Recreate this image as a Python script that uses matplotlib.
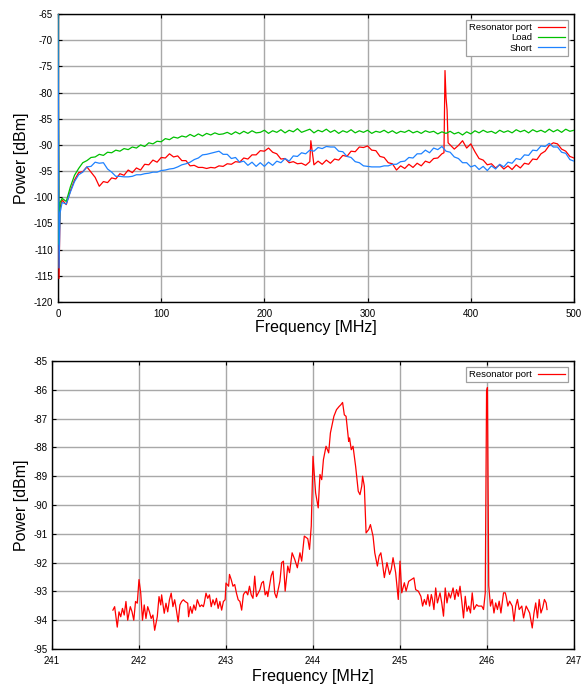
import numpy as np
import matplotlib
matplotlib.use("Agg")
import matplotlib.pyplot as plt

plt.rcParams['font.family'] = ['Liberation Sans', 'DejaVu Sans']

# ---------------- top panel data (0-500 MHz sweep) ----------------
top_freq = [0, 1, 2] + list(range(4, 501, 4))

load_power = [
    -65, -109, -101,
    -100.2, -100.8, -98.0, -95.8, -94.5, -93.4, -93.0, -92.4, -92.3, -91.8,
    -92.0, -91.4, -91.5, -91.0, -91.2, -90.7, -90.9, -90.4, -90.6, -90.0,
    -90.3, -89.6, -89.8, -89.3, -89.4, -88.8, -89.0, -88.5, -88.7, -88.3,
    -88.5, -88.0, -88.4, -87.9, -88.3, -87.8, -88.1, -87.7, -88.0, -87.9,
    -87.6, -88.0, -87.5, -87.9, -87.4, -87.8, -87.3, -87.7, -87.6, -87.2,
    -87.8, -87.3, -87.6, -87.1, -87.7, -87.2, -87.5, -86.9, -87.6, -87.3,
    -87.0, -87.7, -87.2, -87.5, -87.0, -87.6, -87.2, -87.8, -87.3, -87.6,
    -87.1, -87.7, -87.3, -87.6, -87.2, -87.8, -87.4, -87.6, -87.2, -87.7,
    -87.3, -87.8, -87.4, -87.6, -87.2, -87.7, -87.4, -87.8, -87.3, -87.6,
    -87.4, -87.9, -87.5, -87.8, -87.4, -87.9, -87.6, -88.1, -87.5, -87.9,
    -87.3, -87.7, -87.2, -87.6, -87.4, -87.8, -87.2, -87.6, -87.3, -87.7,
    -87.1, -87.5, -87.2, -87.7, -87.1, -87.5, -87.2, -87.6, -87.0, -87.5,
    -87.1, -87.6, -87.0, -87.4, -87.2,
]

resonator_power = [
    -65, -115.5, -102,
    -100.5, -101.4, -98.8, -96.7, -95.3, -95.1, -94.2, -95.2, -96.2, -97.9,
    -97.0, -97.2, -96.3, -96.5, -95.5, -95.8, -94.8, -95.3, -94.4, -94.8,
    -93.7, -93.8, -92.9, -93.3, -92.4, -92.5, -91.7, -92.3, -92.1, -93.0,
    -93.0, -94.0, -93.9, -94.3, -94.3, -94.5, -94.3, -94.4, -94.0, -94.1,
    -93.6, -93.7, -93.2, -93.3, -92.5, -92.7, -91.9, -91.9, -91.1, -91.2,
    -90.6, -91.4, -91.7, -92.7, -92.6, -93.4, -93.2, -93.6, -93.5, -93.9,
    -93.2, -93.8, -93.1, -93.7, -92.9, -93.5, -92.7, -92.9, -92.0, -92.2,
    -91.2, -91.3, -90.4, -90.5, -90.2, -91.0, -91.1, -92.2, -92.4, -93.4,
    -93.6, -94.8, -94.0, -94.5, -93.7, -94.3, -93.5, -94.0, -93.1, -93.4,
    -92.6, -92.5, -91.7, -81.0, -90.0, -90.8, -90.1, -89.2, -90.6, -89.8,
    -91.3, -92.6, -92.9, -93.8, -93.6, -94.4, -93.8, -94.6, -94.0, -94.7,
    -93.8, -94.4, -93.5, -93.7, -92.7, -92.8, -91.7, -91.2, -90.1, -89.6,
    -89.8, -90.8, -91.2, -92.2, -92.5,
]
# narrow spurs of the resonator trace
resonator_spur_freq = [245, 374, 375, 377, 378]
resonator_spur_power = [-89.2, -91.5, -75.8, -83.3, -89.6]

short_power = [
    -65, -113.5, -103,
    -101.0, -101.3, -99.0, -97.0, -95.7, -95.2, -94.2, -94.1, -93.3, -93.5,
    -93.4, -94.6, -95.2, -96.0, -96.0, -96.1, -96.1, -96.0, -95.7, -95.7,
    -95.5, -95.4, -95.2, -95.2, -94.9, -94.8, -94.6, -94.5, -94.2, -93.8,
    -93.6, -93.3, -92.8, -92.5, -91.9, -91.8, -91.6, -91.4, -91.2, -91.8,
    -91.8, -92.6, -92.4, -93.3, -93.1, -93.9, -93.3, -94.1, -93.4, -94.1,
    -93.3, -93.9, -93.1, -93.4, -92.6, -93.1, -92.1, -92.2, -91.5, -91.7,
    -91.0, -91.2, -90.5, -90.7, -90.3, -90.4, -90.4, -91.2, -91.3, -92.2,
    -92.4, -93.2, -93.4, -94.0, -94.1, -94.2, -94.2, -94.2, -94.0, -94.0,
    -93.7, -93.7, -93.2, -93.1, -92.4, -92.5, -91.7, -91.7, -91.0, -91.5,
    -90.6, -90.9, -90.3, -91.2, -91.4, -92.3, -92.6, -93.4, -93.4, -94.2,
    -93.9, -94.7, -94.1, -94.9, -94.0, -94.6, -93.7, -94.2, -93.3, -93.5,
    -92.6, -92.8, -91.9, -92.0, -91.0, -91.1, -90.2, -90.3, -89.7, -90.4,
    -90.4, -91.4, -91.6, -92.8, -93.1,
]

# ---------------- bottom panel data (zoom 241.7-246.7 MHz) ----------------
zoom_freq = [
    241.70, 241.72, 241.75, 241.77, 241.79, 241.81, 241.83, 241.85, 241.87, 241.90,
    241.92, 241.94, 241.96, 241.98, 242.00, 242.02, 242.04, 242.06, 242.08, 242.10,
    242.12, 242.14, 242.16, 242.18, 242.21, 242.23, 242.25, 242.26, 242.29, 242.31,
    242.33, 242.35, 242.37, 242.39, 242.41, 242.43, 242.45, 242.47, 242.49, 242.51,
    242.53, 242.56, 242.57, 242.59, 242.61, 242.63, 242.65, 242.67, 242.70, 242.72,
    242.74, 242.75, 242.77, 242.79, 242.81, 242.83, 242.85, 242.87, 242.89, 242.91,
    242.93, 242.95, 242.97, 242.99, 243.00, 243.03, 243.04, 243.06, 243.08, 243.10,
    243.12, 243.14, 243.16, 243.18, 243.20, 243.21, 243.23, 243.25, 243.27, 243.29,
    243.31, 243.33, 243.35, 243.37, 243.39, 243.41, 243.43, 243.45, 243.47, 243.48,
    243.50, 243.52, 243.54, 243.56, 243.58, 243.62, 243.64, 243.66, 243.68, 243.71,
    243.73, 243.76, 243.79, 243.82, 243.85, 243.87, 243.90, 243.94, 243.96, 243.98,
    244.00, 244.03, 244.06, 244.08, 244.10, 244.12, 244.15, 244.18, 244.20, 244.24,
    244.27, 244.30, 244.32, 244.34, 244.36, 244.38, 244.41, 244.42, 244.44, 244.46,
    244.49, 244.52, 244.54, 244.56, 244.57, 244.59, 244.61, 244.64, 244.66, 244.69,
    244.71, 244.74, 244.76, 244.78, 244.80, 244.82, 244.85, 244.88, 244.90, 244.92,
    244.95, 244.98, 245.00, 245.02, 245.05, 245.07, 245.10, 245.13, 245.16, 245.18,
    245.21, 245.24, 245.26, 245.28, 245.30, 245.32, 245.34, 245.36, 245.37, 245.39,
    245.41, 245.43, 245.46, 245.48, 245.50, 245.52, 245.54, 245.56, 245.58, 245.61,
    245.63, 245.65, 245.67, 245.69, 245.71, 245.73, 245.75, 245.77, 245.79, 245.81,
    245.83, 245.85, 245.88, 245.90, 245.94, 245.96, 245.98, 245.995, 246.005, 246.02,
    246.04, 246.06, 246.08, 246.10, 246.12, 246.14, 246.16, 246.19, 246.21, 246.22,
    246.24, 246.26, 246.29, 246.31, 246.33, 246.35, 246.37, 246.40, 246.42, 246.45,
    246.47, 246.49, 246.52, 246.54, 246.56, 246.58, 246.60, 246.62, 246.64, 246.66,
    246.68, 246.69,
]
zoom_power = [
    -93.65, -93.53, -94.24, -93.71, -93.88, -93.59, -93.82, -93.35, -94.00, -93.53,
    -93.71, -94.00, -93.35, -93.41, -92.59, -93.06, -94.00, -93.47, -93.94, -93.53,
    -93.71, -93.94, -93.82, -94.35, -93.88, -93.18, -93.47, -93.12, -93.76, -93.41,
    -93.71, -93.29, -93.06, -93.53, -93.29, -93.65, -94.06, -93.47, -93.35, -93.29,
    -93.35, -93.41, -93.88, -93.53, -93.76, -93.47, -93.65, -93.29, -93.53, -93.47,
    -93.53, -93.41, -93.06, -93.24, -93.12, -93.53, -93.29, -93.47, -93.24, -93.59,
    -93.35, -93.65, -93.35, -93.29, -92.71, -92.82, -92.41, -92.59, -92.82, -92.76,
    -93.06, -93.29, -93.35, -93.65, -93.12, -93.06, -93.00, -93.12, -92.82, -93.12,
    -93.24, -92.47, -93.18, -93.06, -92.94, -92.71, -92.65, -93.12, -93.00, -93.18,
    -92.81, -92.45, -92.30, -93.06, -93.22, -92.64, -92.00, -91.95, -92.99, -92.12,
    -92.35, -91.66, -91.89, -92.18, -91.66, -91.95, -91.08, -91.17, -91.54, -90.73,
    -88.31, -89.58, -90.10, -88.94, -89.12, -88.42, -87.96, -88.19, -87.50, -86.92,
    -86.69, -86.58, -86.52, -86.44, -86.87, -86.92, -87.79, -87.67, -88.08, -87.96,
    -88.66, -89.52, -89.64, -89.35, -89.00, -89.35, -90.97, -90.85, -90.68, -91.08,
    -91.66, -92.12, -91.77, -91.66, -92.06, -92.52, -92.00, -92.41, -92.23, -91.83,
    -92.35, -93.28, -91.95, -93.05, -92.70, -92.99, -92.65, -92.59, -92.53, -92.94,
    -92.99, -93.17, -93.51, -93.28, -93.46, -93.11, -93.51, -93.11, -93.23, -93.63,
    -92.88, -93.40, -93.05, -93.40, -93.86, -92.88, -93.40, -93.05, -93.23, -92.88,
    -93.28, -92.94, -93.17, -92.82, -93.34, -93.92, -93.17, -93.69, -93.51, -93.75,
    -93.05, -93.63, -93.46, -93.51, -93.51, -93.63, -93.05, -86.05, -85.92, -92.80,
    -93.51, -93.28, -93.75, -93.40, -93.63, -93.34, -93.75, -93.05, -93.05, -93.17,
    -93.51, -93.34, -93.51, -94.03, -93.51, -93.28, -93.63, -93.51, -93.92, -93.51,
    -93.63, -93.75, -94.27, -93.75, -93.40, -93.92, -93.28, -93.75, -93.57, -93.28,
    -93.40, -93.63,
]

series_labels = ["Resonator port", "Load", "Short"]
top_xticks = [0, 100, 200, 300, 400, 500]
top_yticks = list(range(-120, -64, 5))
zoom_xticks = [241, 242, 243, 244, 245, 246, 247]
zoom_yticks = list(range(-95, -84, 1))

RED = "#ff0000"
GREEN = "#00c000"
BLUE = "#1e82ff"
GRID = "#a8a8a8"

# merge the resonator spurs into its sweep
res_f = np.array(top_freq + resonator_spur_freq, dtype=float)
res_p = np.array(resonator_power + resonator_spur_power, dtype=float)
order = np.argsort(res_f, kind="stable")
res_f, res_p = res_f[order], res_p[order]

fig = plt.figure(figsize=(5.82, 6.86), dpi=100)
ax1 = fig.add_axes([58 / 582, 1 - 302 / 686, 516 / 582, 288 / 686])
ax2 = fig.add_axes([52 / 582, 1 - 649 / 686, 522 / 582, 288 / 686])


def style(ax, xt, yt, xlim, ylim, ylab_x, xlab_y, ypad):
    ax.set_xlim(*xlim)
    ax.set_ylim(*ylim)
    ax.set_xticks(xt)
    ax.set_yticks(yt)
    ax.set_xticklabels([str(v) for v in xt])
    ax.set_yticklabels([str(v) for v in yt])
    ax.grid(True, color=GRID, lw=1.0)
    ax.set_axisbelow(True)
    for s in ax.spines.values():
        s.set_linewidth(1.0)
        s.set_color("black")
        s.set_zorder(5)
    ax.tick_params(direction="in", length=3, width=0.8, top=True, right=True,
                   labelsize=7.0, colors="black")
    ax.tick_params(axis="x", pad=4.8)
    ax.tick_params(axis="y", pad=ypad)
    ax.set_xlabel("Frequency [MHz]", fontsize=11.5)
    ax.set_ylabel("Power [dBm]", fontsize=11.5)
    ax.xaxis.set_label_coords(0.5, xlab_y)
    ax.yaxis.set_label_coords(ylab_x, 0.5)


style(ax1, top_xticks, top_yticks, (0, 500), (-120, -65), (29 - 58) / 516, -0.063, 3.6)
style(ax2, zoom_xticks, zoom_yticks, (241, 247), (-95, -85), (29 - 52) / 522, -0.07, 3.0)

ax1.plot(res_f, res_p, color=RED, lw=0.9, label=series_labels[0], zorder=6)
ax1.plot(top_freq, load_power, color=GREEN, lw=0.9, label=series_labels[1], zorder=6)
ax1.plot(top_freq, short_power, color=BLUE, lw=0.9, label=series_labels[2], zorder=6)

ax2.plot(zoom_freq, zoom_power, color=RED, lw=0.9, label=series_labels[0])

for ax in (ax1, ax2):
    leg = ax.legend(loc="upper right", fontsize=6.8, markerfirst=False, fancybox=False,
                    framealpha=1.0, edgecolor="#a0a0a0", borderaxespad=0.6,
                    borderpad=0.35, labelspacing=0.15, handlelength=2.9,
                    handletextpad=0.6)
    leg.get_frame().set_linewidth(0.9)
    leg.set_zorder(10)

fig.savefig("out.png", dpi=100)
